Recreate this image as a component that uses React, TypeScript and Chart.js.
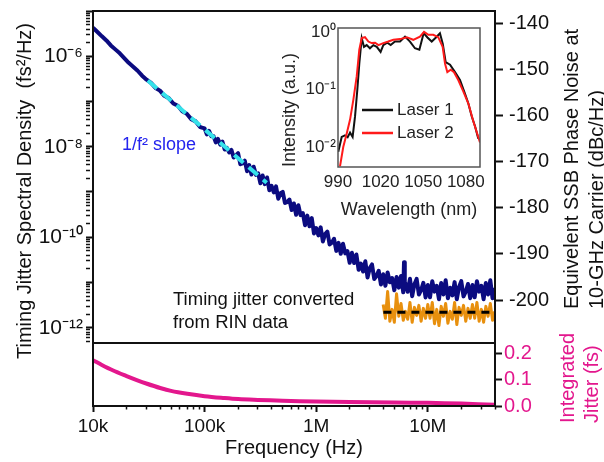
import React, { useEffect, useRef } from "react";
import { Chart, registerables } from "chart.js";

Chart.register(...registerables);

const FONT = "'Liberation Sans', Arial, Helvetica, sans-serif";
Chart.defaults.font.family = FONT;
Chart.defaults.color = "#111";

// ---------------- main panel: timing jitter PSD ----------------
// frequency (Hz)
const jitterFreq = [
  // 10 kHz - 100 kHz (smooth part)
  1.0e4, 1.096e4, 1.202e4, 1.318e4, 1.445e4, 1.585e4, 1.738e4, 1.905e4, 2.089e4, 2.291e4, 2.512e4, 2.754e4, 3.02e4,
  3.311e4, 3.631e4, 3.981e4, 4.365e4, 4.786e4, 5.248e4, 5.754e4, 6.31e4, 6.918e4, 7.586e4, 8.318e4, 9.12e4,
  // 100 kHz - 1 MHz
  1.0e5, 1.047e5, 1.096e5, 1.148e5, 1.202e5, 1.259e5, 1.318e5, 1.38e5, 1.445e5, 1.514e5,
  1.585e5, 1.66e5, 1.738e5, 1.82e5, 1.905e5, 1.995e5, 2.089e5, 2.188e5, 2.291e5, 2.399e5,
  2.512e5, 2.63e5, 2.754e5, 2.884e5, 3.02e5, 3.162e5, 3.311e5, 3.467e5, 3.631e5, 3.802e5,
  3.981e5, 4.169e5, 4.365e5, 4.571e5, 4.786e5, 5.012e5, 5.248e5, 5.495e5, 5.754e5, 6.026e5,
  6.31e5, 6.607e5, 6.918e5, 7.244e5, 7.586e5, 7.943e5, 8.318e5, 8.71e5, 9.12e5, 9.55e5,
  // 1 MHz - 10 MHz
  1.0e6, 1.047e6, 1.096e6, 1.148e6, 1.202e6, 1.259e6, 1.318e6, 1.38e6, 1.445e6, 1.514e6,
  1.585e6, 1.66e6, 1.738e6, 1.82e6, 1.905e6, 1.995e6, 2.089e6, 2.188e6, 2.291e6, 2.399e6,
  2.512e6, 2.63e6, 2.754e6, 2.884e6, 3.02e6, 3.162e6, 3.311e6, 3.467e6, 3.631e6, 3.802e6,
  3.981e6, 4.169e6, 4.365e6, 4.571e6, 4.786e6, 5.012e6, 5.248e6, 5.495e6, 5.754e6, 6.026e6,
  6.12e6, 6.22e6,
  6.31e6, 6.607e6, 6.918e6, 7.244e6, 7.586e6, 7.943e6, 8.318e6, 8.71e6, 9.12e6, 9.55e6,
  // 10 MHz - 40 MHz
  1.0e7, 1.047e7, 1.096e7, 1.148e7, 1.202e7, 1.259e7, 1.318e7, 1.38e7, 1.445e7, 1.514e7,
  1.585e7, 1.66e7, 1.738e7, 1.82e7, 1.905e7, 1.995e7, 2.089e7, 2.188e7, 2.291e7, 2.399e7,
  2.512e7, 2.63e7, 2.754e7, 2.884e7, 3.02e7, 3.162e7, 3.311e7, 3.467e7, 3.631e7, 3.802e7,
  3.981e7,
];
// PSD: exponent of 10 (fs^2/Hz)
const jitterPsdExp = [
  -5.37, -5.465, -5.56, -5.65, -5.76, -5.848, -5.935, -6.039, -6.145, -6.23, -6.32, -6.43, -6.517,
  -6.59, -6.7, -6.76, -6.875, -6.93, -7.045, -7.095, -7.215, -7.27, -7.39, -7.44, -7.565,
  -7.595, -7.727, -7.649, -7.767, -7.766, -7.905, -7.827, -7.952, -7.888, -8.062,
  -8.026, -8.125, -8.07, -8.239, -8.191, -8.142, -8.386, -8.366, -8.308, -8.54,
  -8.407, -8.613, -8.441, -8.621, -8.588, -8.806, -8.634, -8.827, -8.68, -8.961,
  -8.865, -9.01, -8.877, -9.148, -9.028, -8.997, -9.242, -9.223, -9.166, -9.399,
  -9.253, -9.503, -9.291, -9.511, -9.468, -9.734, -9.522, -9.757, -9.576, -9.919,
  -9.799, -9.959, -9.781, -10.095, -9.932, -9.876, -10.16, -10.12, -10.034, -10.302,
  -10.123, -10.365, -10.145, -10.357, -10.306, -10.564, -10.344, -10.571, -10.382, -10.717,
  -10.584, -10.758, -10.532, -10.889, -10.681, -10.601, -10.921, -10.859, -10.743, -11.045,
  -10.819, -11.072, -10.778, -10.994, -10.901, -11.172, -10.879, -11.113, -10.856, -11.218,
  -10.55, -11.0,
  -11.028, -11.204, -10.918, -11.304, -11.039, -10.921, -11.265, -11.168, -11.008, -11.331,
  -11.055, -11.328, -10.971, -11.202, -11.076, -11.37, -11.013, -11.265, -10.95, -11.349,
  -11.118, -11.286, -10.992, -11.37, -11.097, -10.971, -11.307, -11.202, -11.034, -11.349,
  -11.055, -11.328, -10.971, -11.202, -11.076, -11.37, -11.013, -11.265, -10.95, -11.349,
  -11.118,
];

// timing jitter converted from RIN data
const rinFreq = [
  3.981e6, 4.169e6, 4.365e6, 4.571e6, 4.786e6, 5.012e6, 5.248e6, 5.495e6, 5.754e6, 6.026e6,
  6.31e6, 6.607e6, 6.918e6, 7.244e6, 7.586e6, 7.943e6, 8.318e6, 8.71e6, 9.12e6, 9.55e6,
  1.0e7, 1.047e7, 1.096e7, 1.148e7, 1.202e7, 1.259e7, 1.318e7, 1.38e7, 1.445e7, 1.514e7,
  1.585e7, 1.66e7, 1.738e7, 1.82e7, 1.905e7, 1.995e7, 2.089e7, 2.188e7, 2.291e7, 2.399e7,
  2.512e7, 2.63e7, 2.754e7, 2.884e7, 3.02e7, 3.162e7, 3.311e7, 3.467e7, 3.631e7, 3.802e7,
  3.981e7,
];
const rinPsdExp = [
  -11.484, -11.792, -11.2, -11.858, -11.594, -11.88, -11.25, -11.748, -11.462, -11.836,
  -11.638, -11.814, -11.44, -11.88, -11.55, -11.726, -11.506, -11.858, -11.572, -11.792,
  -11.484, -11.792, -11.44, -11.91, -11.594, -11.95, -11.528, -11.748, -11.462, -11.9,
  -11.638, -11.814, -11.44, -11.93, -11.55, -11.726, -11.506, -11.858, -11.572, -11.792,
  -11.484, -11.792, -11.44, -11.858, -11.594, -11.88, -11.528, -11.748, -11.462, -11.836,
  -11.638,
];
const rinMeanFreq = [4.0e6, 4.0e7];
const rinMeanPsd = [2.2e-12, 2.2e-12];

// 1/f^2 guide line
const slopeFreq = [3.1e4, 3.6e5];
const slopePsd = [2.9e-7, 1.6e-9];

// ---------------- bottom panel: integrated jitter (fs) ----------------
const intFreq = [1e4, 1.2e4, 1.5e4, 2e4, 2.5e4, 3e4, 4e4, 5e4, 7e4, 1e5, 1.5e5, 2e5, 3e5, 5e5, 1e6, 2e6, 5e6, 1e7, 2e7, 4e7];
const intJitter = [0.173, 0.155, 0.135, 0.113, 0.097, 0.085, 0.068, 0.057, 0.046, 0.037, 0.03, 0.026, 0.023, 0.02, 0.017, 0.015, 0.013, 0.012, 0.009, 0.005];

// ---------------- inset: optical spectra ----------------
const laser1Wl = [990.2, 992.6, 994.9, 996.8, 998.5, 1000.3, 1002, 1003.6, 1005, 1006.7, 1008.3, 1010.2, 1012.5, 1014.9, 1017.3, 1020, 1021.9, 1024.7, 1027.1, 1030.1, 1033.7, 1037.2, 1040.7, 1044.2, 1047.3, 1050.3, 1053, 1056, 1059, 1061.8, 1063.8, 1065.8, 1068.9, 1072.4, 1075.9, 1079.4, 1081.8, 1084.2, 1086.5, 1088.8];
const laser1Int = [0.0083, 0.015, 0.016, 0.0148, 0.0178, 0.015, 0.034, 0.098, 0.28, 0.78, 0.55, 0.59, 0.52, 0.59, 0.55, 0.45, 0.59, 0.65, 0.59, 0.68, 0.68, 0.83, 0.68, 0.52, 0.49, 0.95, 0.8, 0.68, 0.8, 0.95, 0.62, 0.3, 0.27, 0.2, 0.146, 0.085, 0.057, 0.034, 0.023, 0.014];
const laser2Wl = [991.4, 993.7, 996.1, 998.5, 1000.8, 1003.2, 1005, 1006.7, 1009, 1011.4, 1013.7, 1016.1, 1018.5, 1021.9, 1025.4, 1029, 1033.7, 1038.4, 1043, 1047.7, 1050.6, 1053.6, 1057.1, 1060.6, 1063.7, 1065.4, 1067, 1069.4, 1071.7, 1074.7, 1078.3, 1081.8, 1085.3, 1090];
const laser2Int = [0.0046, 0.01, 0.017, 0.03, 0.066, 0.17, 0.49, 0.78, 0.81, 0.68, 0.64, 0.65, 0.59, 0.64, 0.68, 0.73, 0.75, 0.81, 0.73, 0.83, 1.0, 0.89, 0.89, 0.81, 0.55, 0.28, 0.2, 0.22, 0.2, 0.146, 0.092, 0.057, 0.028, 0.012];

// ---------------- ticks ----------------
const freqTickValues = [1e4, 1e5, 1e6, 1e7];
const freqTickLabels = ["10k", "100k", "1M", "10M"];
const psdTickValues = [1e-12, 1e-10, 1e-8, 1e-6];
const psdTickLabels = ["10\u207B\u00B9\u00B2", "10\u207B\u00B9\u2070", "10\u207B\u2078", "10\u207B\u2076"];
const phaseTicks = [-140, -150, -160, -170, -180, -190, -200];
const intTickValues = [0, 0.1, 0.2];
const intTickLabels = ["0.0", "0.1", "0.2"];
const wlTicks = [990, 1020, 1050, 1080];
const specTickValues = [1, 0.1, 0.01];
const specTickLabels = ["10\u2070", "10\u207B\u00B9", "10\u207B\u00B2"];

// ---------------- styling ----------------
const NAVY = "#0b0b80";
const ORANGE = "#e8900e";
const CYAN = "#35e2ea";
const MAGENTA = "#e3178d";
const BLUE = "#2323ee";

const W = 604;
const H = 462;

const pts = (xs: number[], ys: number[]) => xs.map((x, i) => ({ x, y: ys[i] }));
const ptsExp = (xs: number[], exps: number[]) => xs.map((x, i) => ({ x, y: Math.pow(10, exps[i]) }));
const near = (a: number, b: number) => Math.abs(a - b) <= Math.max(Math.abs(a), Math.abs(b)) * 1e-6;
const labelFor = (vals: number[], labels: string[]) => (v: any) => {
  const i = vals.findIndex((t) => near(Number(v), t));
  return i >= 0 ? labels[i] : "";
};

function logTicks(lo: number, hi: number) {
  const out: { value: number; major: boolean }[] = [];
  for (let e = Math.floor(Math.log10(lo)); e <= Math.ceil(Math.log10(hi)); e++) {
    for (let m = 1; m <= 9; m++) {
      const v = m * Math.pow(10, e);
      if (v >= lo * 0.999999 && v <= hi * 1.000001) out.push({ value: v, major: m === 1 });
    }
  }
  return out;
}
const fixedTicks = (vals: number[]) => (s: any) => {
  s.ticks = vals.map((v) => ({ value: v, major: true }));
};
const fix = (w?: number, h?: number) => (s: any) => {
  if (w !== undefined) s.width = w;
  if (h !== undefined) s.height = h;
  s.paddingLeft = 0;
  s.paddingRight = 0;
  s.paddingTop = 0;
  s.paddingBottom = 0;
};
const tickGrid = (majorLen: number, minorLen: number) => ({
  display: true,
  drawOnChartArea: false,
  drawTicks: true,
  tickLength: majorLen,
  tickColor: "#111",
  tickWidth: (c: any) => (c.tick && c.tick.major ? 2 : 1.5),
  tickBorderDash: (c: any) => (c.tick && c.tick.major ? [] : [minorLen, 60]),
});

const framePlugin = (color: string, width: number) => ({
  id: "frame",
  afterDraw(chart: any) {
    const { ctx, chartArea: a } = chart;
    ctx.save();
    ctx.strokeStyle = color;
    ctx.lineWidth = width;
    ctx.strokeRect(a.left, a.top, a.right - a.left, a.bottom - a.top);
    ctx.restore();
  },
});

type TextItem = { text: string; x: number; y: number; size: number; color?: string; rotate?: number; align?: CanvasTextAlign };
const textPlugin = (items: TextItem[]) => ({
  id: "texts",
  afterDraw(chart: any) {
    const ctx = chart.ctx;
    for (const it of items) {
      ctx.save();
      ctx.translate(it.x, it.y);
      if (it.rotate) ctx.rotate((it.rotate * Math.PI) / 180);
      ctx.font = `${it.size}px ${FONT}`;
      ctx.fillStyle = it.color || "#111";
      ctx.textAlign = it.align || "left";
      ctx.textBaseline = "middle";
      ctx.fillText(it.text, 0, 0);
      ctx.restore();
    }
  },
});

const legendPlugin = {
  id: "insetLegend",
  afterDraw(chart: any) {
    const ctx = chart.ctx;
    const rows = [110, 133];
    chart.data.datasets.forEach((ds: any, i: number) => {
      const y = rows[i];
      ctx.save();
      ctx.strokeStyle = ds.borderColor;
      ctx.lineWidth = 2.5;
      ctx.beginPath();
      ctx.moveTo(92, y);
      ctx.lineTo(123, y);
      ctx.stroke();
      ctx.font = `17px ${FONT}`;
      ctx.fillStyle = "#222";
      ctx.textBaseline = "middle";
      ctx.textAlign = "left";
      ctx.fillText(ds.label, 127, y);
      ctx.restore();
    });
  },
};

const baseOptions = {
  responsive: false,
  animation: false as const,
  devicePixelRatio: 1,
  events: [] as any[],
  elements: { point: { radius: 0 }, line: { tension: 0 } },
  plugins: { legend: { display: false }, tooltip: { enabled: false } },
};

function mainConfig(): any {
  return {
    type: "line",
    data: {
      datasets: [
        { label: "Timing jitter PSD", data: ptsExp(jitterFreq, jitterPsdExp), borderColor: NAVY, borderWidth: 4, borderJoinStyle: "round", order: 4, yAxisID: "y" },
        { label: "Timing jitter from RIN", data: ptsExp(rinFreq, rinPsdExp), borderColor: ORANGE, borderWidth: 3, borderJoinStyle: "round", order: 3, yAxisID: "y" },
        { label: "1/f\u00B2 slope", data: pts(slopeFreq, slopePsd), borderColor: CYAN, borderWidth: 4, borderDash: [12, 7], order: 2, yAxisID: "y" },
        { label: "RIN mean", data: pts(rinMeanFreq, rinMeanPsd), borderColor: "#000", borderWidth: 3, borderDash: [8, 6], order: 1, yAxisID: "y" },
      ],
    },
    options: {
      ...baseOptions,
      layout: { padding: { top: 11, left: 0, right: 0, bottom: 0 } },
      scales: {
        x: {
          type: "logarithmic",
          min: 1e4,
          max: 4e7,
          ticks: { display: false },
          grid: { display: false },
          border: { display: false },
          afterFit: fix(undefined, H - 343),
        },
        y: {
          type: "logarithmic",
          position: "left",
          min: 4.6e-13,
          max: 1e-5,
          afterBuildTicks: (s: any) => {
            s.ticks = logTicks(4.6e-13, 1e-5);
          },
          ticks: { autoSkip: false, font: { size: 21 }, padding: 3, color: "#111", callback: labelFor(psdTickValues, psdTickLabels) },
          grid: tickGrid(7, 4),
          border: { display: false },
          afterFit: fix(93),
        },
        y2: {
          type: "linear",
          position: "right",
          min: -209.3,
          max: -137.4,
          afterBuildTicks: fixedTicks(phaseTicks),
          ticks: { autoSkip: false, font: { size: 20 }, padding: 6, color: "#111", callback: (v: any) => String(v) },
          grid: tickGrid(8, 8),
          border: { display: false },
          afterFit: fix(W - 495),
        },
      },
    },
    plugins: [
      framePlugin("#111", 2),
      textPlugin([
        { text: "Timing Jitter Spectral Density  (fs\u00B2/Hz)", x: 25, y: 191, size: 20, rotate: -90, align: "center" },
        { text: "Equivelent SSB Phase Noise at", x: 572, y: 309, size: 20, rotate: -90, align: "left" },
        { text: "10-GHz Carrier (dBc/Hz)", x: 597, y: 309, size: 20, rotate: -90, align: "left" },
        { text: "1/f\u00B2 slope", x: 122, y: 145, size: 18, color: BLUE },
        { text: "Timing jitter converted", x: 173, y: 300, size: 18.5 },
        { text: "from RIN data", x: 173, y: 323, size: 18.5 },
      ]),
    ],
  };
}

function bottomConfig(): any {
  return {
    type: "line",
    data: {
      datasets: [
        { label: "Integrated Jitter", data: pts(intFreq, intJitter), borderColor: MAGENTA, borderWidth: 4, tension: 0.35, yAxisID: "y2" },
      ],
    },
    options: {
      ...baseOptions,
      layout: { padding: { top: 343, left: 93, right: 0, bottom: 0 } },
      scales: {
        x: {
          type: "logarithmic",
          position: "bottom",
          min: 1e4,
          max: 4e7,
          afterBuildTicks: (s: any) => {
            s.ticks = logTicks(1e4, 4e7);
          },
          ticks: { autoSkip: false, maxRotation: 0, minRotation: 0, font: { size: 19 }, padding: 3, color: "#111", callback: labelFor(freqTickValues, freqTickLabels) },
          grid: tickGrid(6, 3.5),
          border: { display: false },
          title: { display: true, text: "Frequency (Hz)", font: { size: 20 }, color: "#111", padding: { top: 0, bottom: 2 } },
          afterFit: fix(undefined, H - 406),
        },
        y2: {
          type: "linear",
          position: "right",
          min: 0,
          max: 0.238,
          afterBuildTicks: fixedTicks(intTickValues),
          ticks: { autoSkip: false, font: { size: 20 }, padding: 2, color: MAGENTA, callback: labelFor(intTickValues, intTickLabels) },
          grid: tickGrid(7, 7),
          border: { display: false },
          afterFit: fix(W - 495),
        },
      },
    },
    plugins: [
      framePlugin("#111", 2),
      textPlugin([
        { text: "Integrated", x: 568, y: 423, size: 20, rotate: -90, align: "left", color: MAGENTA },
        { text: "Jitter (fs)", x: 592, y: 423, size: 20, rotate: -90, align: "left", color: MAGENTA },
      ]),
    ],
  };
}

const INSET_W = 225;
const INSET_H = 230;

function insetConfig(): any {
  return {
    type: "line",
    data: {
      datasets: [
        { label: "Laser 1", data: pts(laser1Wl, laser1Int), borderColor: "#111", borderWidth: 2, order: 1 },
        { label: "Laser 2", data: pts(laser2Wl, laser2Int), borderColor: "#ff1a1a", borderWidth: 2, order: 0 },
      ],
    },
    options: {
      ...baseOptions,
      layout: { padding: { top: 28, left: 0, right: 15, bottom: 0 } },
      scales: {
        x: {
          type: "linear",
          min: 990,
          max: 1090,
          afterBuildTicks: fixedTicks(wlTicks),
          ticks: { autoSkip: false, maxRotation: 0, font: { size: 17 }, padding: 5, color: "#222", callback: (v: any) => String(v) },
          grid: { display: true, drawOnChartArea: false, drawTicks: false },
          border: { display: false },
          title: { display: true, text: "Wavelength (nm)", font: { size: 18 }, color: "#222", padding: { top: 0, bottom: 9 } },
          afterFit: fix(undefined, INSET_H - 167),
        },
        y: {
          type: "logarithmic",
          min: 4.5e-3,
          max: 1.17,
          afterBuildTicks: fixedTicks(specTickValues),
          ticks: { autoSkip: false, font: { size: 17 }, padding: 2, color: "#222", callback: labelFor(specTickValues, specTickLabels) },
          grid: { display: true, drawOnChartArea: false, drawTicks: false },
          border: { display: false },
          afterFit: fix(68),
        },
      },
    },
    plugins: [
      framePlugin("#555", 1.5),
      legendPlugin,
      textPlugin([{ text: "Intensity (a.u.)", x: 20, y: 110, size: 18, rotate: -90, align: "center", color: "#222" }]),
    ],
  };
}

export default function App() {
  const mainRef = useRef<HTMLCanvasElement>(null);
  const bottomRef = useRef<HTMLCanvasElement>(null);
  const insetRef = useRef<HTMLCanvasElement>(null);

  useEffect(() => {
    const charts = [
      new Chart(mainRef.current as HTMLCanvasElement, mainConfig()),
      new Chart(bottomRef.current as HTMLCanvasElement, bottomConfig()),
      new Chart(insetRef.current as HTMLCanvasElement, insetConfig()),
    ];
    return () => charts.forEach((c) => c.destroy());
  }, []);

  const abs = (l: number, t: number, w: number, h: number): React.CSSProperties => ({
    position: "absolute",
    left: l,
    top: t,
    width: w,
    height: h,
  });

  return (
    <div style={{ position: "fixed", left: 0, top: 0, width: W, height: H, background: "#fff", overflow: "hidden" }}>
      <canvas ref={mainRef} width={W} height={H} style={abs(0, 0, W, H)} />
      <canvas ref={bottomRef} width={W} height={H} style={abs(0, 0, W, H)} />
      <canvas ref={insetRef} width={INSET_W} height={INSET_H} style={abs(270, 0, INSET_W, INSET_H)} />
    </div>
  );
}
